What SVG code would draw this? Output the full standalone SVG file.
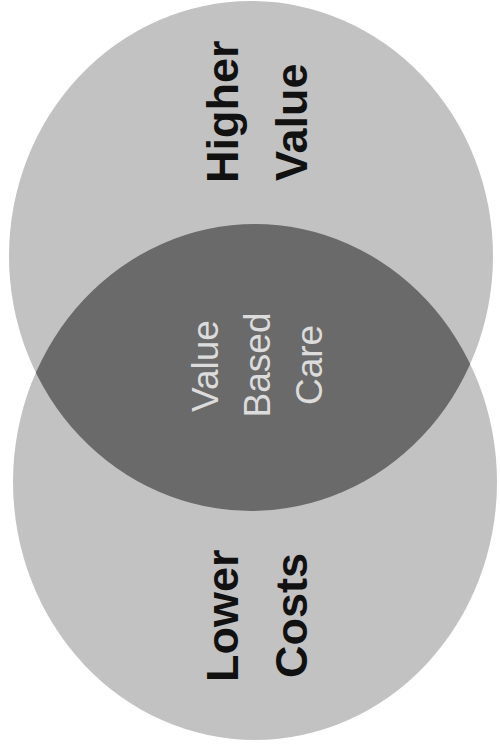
<svg xmlns="http://www.w3.org/2000/svg" width="500" height="755" viewBox="0 0 500 755">
<style>
.circ{fill:#c2c2c2;}
.lens{fill:#6a6a6a;}
.big{font-family:"Liberation Sans",Arial,sans-serif;font-size:45px;font-weight:bold;fill:#111;}
.small{font-family:"Liberation Sans",Arial,sans-serif;font-size:37px;fill:#dcdcdc;text-anchor:middle;}
</style>
<defs>
<clipPath id="clipTop"><ellipse cx="251" cy="256" rx="242" ry="255"/></clipPath>
</defs>
<rect width="500" height="755" fill="#ffffff"/>
<g id="higher-value">
<ellipse class="circ" cx="251" cy="256" rx="242" ry="255"/>
<text class="big" transform="translate(238,183) rotate(-90)">Higher</text>
<text class="big" transform="translate(307,181) rotate(-90)">Value</text>
</g>
<g id="lower-costs">
<ellipse class="circ" cx="255" cy="482" rx="242" ry="258"/>
<text class="big" transform="translate(238,682) rotate(-90)">Lower</text>
<text class="big" transform="translate(307,678) rotate(-90)">Costs</text>
</g>
<g id="value-based-care">
<ellipse class="lens" cx="255" cy="482" rx="242" ry="258" clip-path="url(#clipTop)"/>
<text class="small" transform="translate(218,366) rotate(-90)">Value</text>
<text class="small" transform="translate(270,365) rotate(-90)">Based</text>
<text class="small" transform="translate(322,365) rotate(-90)">Care</text>
</g>
</svg>
